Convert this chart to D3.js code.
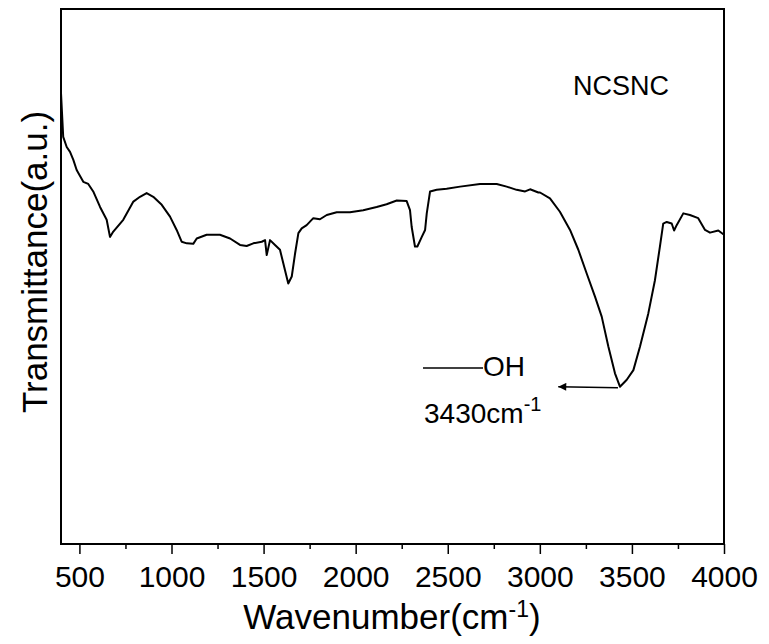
<!DOCTYPE html>
<html>
<head>
<meta charset="utf-8">
<script src="https://cdn.jsdelivr.net/npm/d3@7"></script>
<style>
  html, body { margin: 0; padding: 0; background: #fff; }
  svg { display: block; font-family: "Liberation Sans", Arial, sans-serif; }
</style>
</head>
<body>
<svg id="chart" width="769" height="644"></svg>
<script>
// FTIR spectrum of NCSNC (transmittance in arbitrary units)
const wavenumber = [
  400, 412, 431, 449, 467, 485, 521, 548, 575, 612, 648, 666, 684, 738, 793, 829,
  865, 901, 947, 992, 1028, 1055, 1083, 1118, 1137, 1191, 1263, 1318, 1372, 1408,
  1444, 1490, 1508, 1517, 1535, 1562, 1589, 1616, 1634, 1653, 1671, 1689, 1707,
  1734, 1770, 1806, 1843, 1897, 1969, 2041, 2114, 2168, 2223, 2277, 2295, 2304,
  2322, 2335, 2359, 2377, 2386, 2404, 2440, 2494, 2567, 2675, 2766, 2820, 2874,
  2920, 2947, 2992, 3001, 3055, 3109, 3164, 3209, 3254, 3300, 3336, 3372, 3408,
  3435, 3472, 3508, 3544, 3589, 3625, 3652, 3670, 3689, 3716, 3729, 3743, 3779,
  3815, 3860, 3897, 3924, 3969, 4000
];
const transmittance = [
  84.3, 76.1, 74.2, 73.3, 71.8, 69.9, 67.7, 67.3, 65.9, 63.0, 60.6, 57.4, 58.4, 60.6, 64.0, 64.9,
  65.6, 64.9, 63.4, 61.2, 58.7, 56.5, 56.2, 56.1, 57.1, 57.8, 57.8, 57.1, 55.9, 55.7,
  56.2, 56.5, 56.8, 54.0, 56.8, 55.9, 55.0, 51.2, 48.7, 50.0, 54.3, 58.1, 59.0,
  59.6, 60.9, 60.7, 61.5, 62.0, 62.0, 62.4, 63.0, 63.5, 64.2, 64.1, 62.4, 59.3,
  55.6, 55.6, 57.4, 58.7, 61.8, 65.9, 66.2, 66.4, 66.8, 67.3, 67.3, 66.8, 66.2,
  65.9, 66.3, 65.7, 65.7, 64.6, 62.1, 58.7, 55.0, 50.6, 46.2, 42.5, 36.9, 31.9,
  29.4, 30.7, 32.5, 36.9, 43.1, 49.3, 55.6, 59.9, 60.2, 59.9, 58.6, 59.6, 61.8,
  61.5, 60.9, 58.7, 58.2, 58.6, 57.8
];
const majorTicks = [500, 1000, 1500, 2000, 2500, 3000, 3500, 4000];
const minorTicks = [750, 1250, 1750, 2250, 2750, 3250, 3750];

const svg = d3.select("#chart");
const margin = { left: 61, right: 45, top: 9, bottom: 100 };
const width = 769, height = 644;

const x = d3.scaleLinear().domain([400, 4000]).range([margin.left, width - margin.right]);
const y = d3.scaleLinear().domain([0, 100]).range([height - margin.bottom, margin.top]);

const data = wavenumber.map((w, i) => ({ w: w, t: transmittance[i] }));

// minor ticks first, major axis on top
svg.append("g")
  .attr("transform", `translate(0,${y(0)})`)
  .call(d3.axisBottom(x).tickValues(minorTicks).tickSize(5).tickSizeOuter(0).tickFormat(""))
  .call(g => g.select(".domain").remove())
  .call(g => g.selectAll("line").attr("stroke", "#000").attr("stroke-width", 1.5));

svg.append("g")
  .attr("transform", `translate(0,${y(0)})`)
  .call(d3.axisBottom(x).tickValues(majorTicks).tickSize(10).tickSizeOuter(0)
    .tickPadding(12).tickFormat(d3.format("d")))
  .attr("font-size", 30)
  .attr("font-family", "'Liberation Sans', Arial, sans-serif")
  .call(g => g.select(".domain").remove())
  .call(g => g.selectAll("line").attr("stroke", "#000").attr("stroke-width", 1.5))
  .call(g => g.selectAll("text").attr("fill", "#000"));

// plot frame
svg.append("rect")
  .attr("x", x(400)).attr("y", y(100))
  .attr("width", x(4000) - x(400)).attr("height", y(0) - y(100))
  .attr("fill", "none").attr("stroke", "#000").attr("stroke-width", 2);

// spectrum
const line = d3.line().x(d => x(d.w)).y(d => y(d.t));
svg.append("path")
  .datum(data)
  .attr("d", line)
  .attr("fill", "none")
  .attr("stroke", "#000")
  .attr("stroke-width", 2)
  .attr("stroke-linejoin", "round");

// axis titles
const xt = svg.append("text")
  .attr("x", 392).attr("y", 629)
  .attr("text-anchor", "middle")
  .style("font-size", "35px");
xt.append("tspan").text("Wavenumber(cm");
xt.append("tspan").attr("dy", -12).style("font-size", "23px").text("-1");
xt.append("tspan").attr("dy", 12).text(")");

svg.append("text")
  .attr("transform", "translate(47,262) rotate(-90)")
  .attr("text-anchor", "middle")
  .style("font-size", "35px")
  .text("Transmittance(a.u.)");

// sample label
svg.append("text")
  .attr("x", 573).attr("y", 95)
  .style("font-size", "27px")
  .text("NCSNC");

// O-H band annotation
const peakW = 3435, peakT = 29.4;
const defs = svg.append("defs");
defs.append("marker")
  .attr("id", "arrow")
  .attr("viewBox", "0 -5 10 10")
  .attr("refX", 10).attr("refY", 0)
  .attr("markerWidth", 14).attr("markerHeight", 8)
  .attr("markerUnits", "userSpaceOnUse")
  .attr("orient", "auto")
  .append("path")
  .attr("d", "M0,-5L10,0L0,5Z")
  .attr("fill", "#000");

svg.append("line")
  .attr("x1", x(peakW) - 2).attr("y1", y(peakT) + 1)
  .attr("x2", x(3100)).attr("y2", y(peakT) + 0)
  .attr("stroke", "#000").attr("stroke-width", 1.5)
  .attr("marker-end", "url(#arrow)");

svg.append("line")
  .attr("x1", 423).attr("x2", 483)
  .attr("y1", 368).attr("y2", 368)
  .attr("stroke", "#000").attr("stroke-width", 1.5);

svg.append("text")
  .attr("x", 483).attr("y", 376)
  .style("font-size", "28px")
  .text("OH");

const ann = svg.append("text")
  .attr("x", 424).attr("y", 423)
  .style("font-size", "28px");
ann.append("tspan").text("3430cm");
ann.append("tspan").attr("dy", -12).style("font-size", "20px").text("-1");
</script>
</body>
</html>
